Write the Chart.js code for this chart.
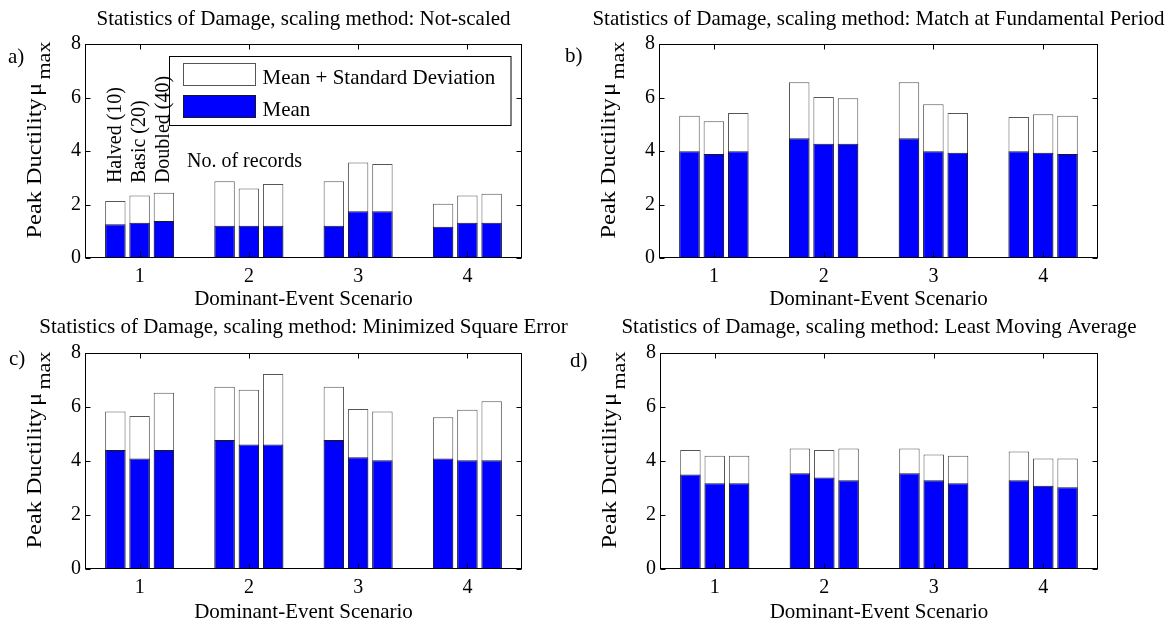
<!DOCTYPE html>
<html>
<head>
<meta charset="utf-8">
<script src="https://cdn.jsdelivr.net/npm/chart.js@4.4.1/dist/chart.umd.min.js"></script>
<style>
  body { margin: 0; background: #fff; }
  #figure { position: relative; width: 1174px; height: 625px; overflow: hidden; background: #fff; }
  #figure canvas { position: absolute; }
  .panel-label { position: absolute; font: 21px/21px "Liberation Serif", "Times New Roman", serif; color: #000; }
</style>
</head>
<body>
<div id="figure">
  <canvas id="chartA" width="587" height="312" style="left:0;top:0"></canvas>
  <canvas id="chartB" width="587" height="312" style="left:587px;top:0"></canvas>
  <canvas id="chartC" width="587" height="313" style="left:0;top:312px"></canvas>
  <canvas id="chartD" width="587" height="313" style="left:587px;top:312px"></canvas>
  <div class="panel-label" style="left:8px;top:46px">a)</div>
  <div class="panel-label" style="left:565px;top:45px">b)</div>
  <div class="panel-label" style="left:9px;top:348px">c)</div>
  <div class="panel-label" style="left:570px;top:350px">d)</div>
</div>
<script>
// ===================================
// DATA
// ===================================
const scenarios = ["1", "2", "3", "4"];
const recordSets = ["Halved (10)", "Basic (20)", "Doubled (40)"];
const yTicks = [0, 2, 4, 6, 8];

// rows: halved, basic, doubled -- columns: scenario 1..4
const notScaledMean = [
  [1.26, 1.21, 1.21, 1.17],
  [1.32, 1.21, 1.75, 1.32],
  [1.38, 1.21, 1.75, 1.32],
];
const notScaledMeanSd = [
  [2.13, 2.87, 2.87, 2.03],
  [2.34, 2.60, 3.57, 2.34],
  [2.44, 2.77, 3.51, 2.40],
];

const fundPeriodMean = [
  [3.99, 4.48, 4.48, 3.99],
  [3.89, 4.27, 3.99, 3.93],
  [3.99, 4.27, 3.93, 3.89],
];
const fundPeriodMeanSd = [
  [5.32, 6.57, 6.57, 5.27],
  [5.11, 6.02, 5.75, 5.37],
  [5.42, 5.97, 5.42, 5.32],
];

const minSqErrMean = [
  [4.41, 4.78, 4.78, 4.09],
  [4.09, 4.61, 4.14, 4.03],
  [4.41, 4.61, 4.03, 4.03],
];
const minSqErrMeanSd = [
  [5.83, 6.75, 6.75, 5.62],
  [5.67, 6.64, 5.93, 5.90],
  [6.53, 7.22, 5.83, 6.21],
];

const leastMovAvgMean = [
  [3.50, 3.55, 3.55, 3.29],
  [3.18, 3.39, 3.29, 3.08],
  [3.18, 3.29, 3.18, 3.03],
];
const leastMovAvgMeanSd = [
  [4.41, 4.46, 4.46, 4.35],
  [4.19, 4.41, 4.24, 4.09],
  [4.19, 4.46, 4.19, 4.09],
];

// ===================================
// LAYOUT
// ===================================
const FONT = '"Liberation Serif", "Times New Roman", serif';

const panels = [
  { id: "chartA", title: "Statistics of Damage, scaling method: Not-scaled",
    mean: notScaledMean, meanSd: notScaledMeanSd,
    area: { left: 85, top: 44, right: 522, bottom: 258 }, titleY: 19, notes: true },
  { id: "chartB", title: "Statistics of Damage, scaling method: Match at Fundamental Period",
    mean: fundPeriodMean, meanSd: fundPeriodMeanSd,
    area: { left: 72, top: 44, right: 511, bottom: 258 }, titleY: 19 },
  { id: "chartC", title: "Statistics of Damage, scaling method: Minimized Square Error",
    mean: minSqErrMean, meanSd: minSqErrMeanSd,
    area: { left: 85, top: 41, right: 522, bottom: 257 }, titleY: 15 },
  { id: "chartD", title: "Statistics of Damage, scaling method: Least Moving Average",
    mean: leastMovAvgMean, meanSd: leastMovAvgMeanSd,
    area: { left: 73, top: 41, right: 511, bottom: 257 }, titleY: 15 },
];

function buildDatasets(mean, meanSd) {
  const common = { categoryPercentage: 0.667, barPercentage: 0.84, borderWidth: 1 };
  const blue = recordSets.map((name, i) => ({
    ...common, label: "Mean", data: mean[i], stack: "rec" + i, order: 0,
    backgroundColor: "#0000ff", borderColor: "#1a1a1a",
  }));
  const white = recordSets.map((name, i) => ({
    ...common, label: "Mean + Standard Deviation", data: meanSd[i], stack: "rec" + i, order: 1,
    backgroundColor: "#ffffff", borderColor: "#555555",
  }));
  return blue.concat(white);
}

// title, frame, inward ticks and y label, MATLAB style
function axesPlugin(panel) {
  return {
    id: "matlabAxes",
    afterDatasetsDraw(chart) {
      const { ctx, chartArea: a, scales: { x, y } } = chart;
      const L = Math.round(a.left) + 0.5;
      const R = Math.round(a.right) - 0.5;
      const T = Math.round(a.top) + 0.5;
      const B = Math.round(a.bottom) - 0.5;
      ctx.save();
      ctx.strokeStyle = "#000";
      ctx.lineWidth = 1;
      ctx.strokeRect(L, T, R - L, B - T);
      ctx.beginPath();
      y.ticks.forEach((t, i) => {
        const py = Math.round(y.getPixelForTick(i)) + 0.5;
        ctx.moveTo(L, py); ctx.lineTo(L + 5, py);
        ctx.moveTo(R, py); ctx.lineTo(R - 5, py);
      });
      x.ticks.forEach((t, i) => {
        const px = Math.round(x.getPixelForTick(i)) + 0.5;
        ctx.moveTo(px, B); ctx.lineTo(px, B - 5);
        ctx.moveTo(px, T); ctx.lineTo(px, T + 5);
      });
      ctx.stroke();

      ctx.fillStyle = "#000";
      ctx.font = "21px " + FONT;
      ctx.textAlign = "center";
      ctx.textBaseline = "middle";
      ctx.fillText(panel.title, (a.left + a.right) / 2, panel.titleY);
      ctx.restore();
      drawYLabel(ctx, a);
    },
  };
}

function drawYLabel(ctx, a) {
  ctx.save();
  ctx.translate(a.left - 44, (a.top + a.bottom) / 2 - 11);
  ctx.rotate(-Math.PI / 2);
  ctx.scale(1.16, 1);
  ctx.fillStyle = "#000";
  ctx.textBaseline = "alphabetic";
  ctx.textAlign = "left";
  ctx.font = "21px " + FONT;
  const main = "Peak Ductility";
  const w1 = ctx.measureText(main).width;
  const wm = ctx.measureText("\u03bc").width;
  ctx.font = "19px " + FONT;
  const w2 = ctx.measureText("max").width;
  const total = w1 + 2 + wm + 3 + w2;
  const x0 = -total / 2;
  ctx.font = "21px " + FONT;
  ctx.fillText(main, x0, 0);
  ctx.fillText("\u03bc", x0 + w1 + 2, 0);
  ctx.font = "19px " + FONT;
  ctx.fillText("max", x0 + w1 + 2 + wm + 3, 9);
  ctx.restore();
}

// legend box and record-count notes of panel a)
const notesPlugin = {
  id: "recordNotes",
  afterDraw(chart) {
    const { ctx, chartArea: a, scales: { y } } = chart;
    const bx = Math.round(a.left) + 84.5;
    const by = Math.round(a.top) + 12.5;
    const bw = Math.round(a.right) - 11 - bx;
    ctx.save();
    ctx.fillStyle = "#fff";
    ctx.fillRect(bx, by, bw, 69);
    ctx.strokeStyle = "#000";
    ctx.lineWidth = 1;
    ctx.strokeRect(bx, by, bw, 69);
    // swatches
    ctx.fillStyle = "#fff";
    ctx.strokeStyle = "#555";
    ctx.fillRect(bx + 14, by + 7, 72, 22);
    ctx.strokeRect(bx + 14, by + 7, 72, 22);
    ctx.fillStyle = "#0000ff";
    ctx.strokeStyle = "#1a1a1a";
    ctx.fillRect(bx + 14, by + 39, 72, 22);
    ctx.strokeRect(bx + 14, by + 39, 72, 22);
    ctx.fillStyle = "#000";
    ctx.font = "21px " + FONT;
    ctx.textBaseline = "alphabetic";
    ctx.fillText("Mean + Standard Deviation", bx + 93, by + 27);
    ctx.fillText("Mean", bx + 93, by + 59);
    // record sets written up along the first group of bars
    const base = y.getPixelForValue(2.8);
    ctx.font = "20px " + FONT;
    ctx.textBaseline = "middle";
    recordSets.forEach((name, i) => {
      const bar = chart.getDatasetMeta(i).data[0];
      ctx.save();
      ctx.translate(bar.x, base);
      ctx.rotate(-Math.PI / 2);
      ctx.fillText(name, 0, 0);
      ctx.restore();
    });
    ctx.textBaseline = "alphabetic";
    ctx.fillText("No. of records", a.left + 102, a.top + 123);
    ctx.restore();
  },
};

function makeChart(panel) {
  const canvas = document.getElementById(panel.id);
  const W = canvas.width;
  const H = canvas.height;
  const area = panel.area;
  const tickFont = { family: FONT, size: 20 };
  return new Chart(canvas, {
    type: "bar",
    data: { labels: scenarios, datasets: buildDatasets(panel.mean, panel.meanSd) },
    options: {
      responsive: false,
      animation: false,
      events: [],
      layout: { padding: { left: 0, top: area.top, right: W - area.right, bottom: 0 } },
      plugins: {
        legend: { display: false },
        tooltip: { enabled: false },
        title: { display: false },
      },
      scales: {
        x: {
          grid: { display: false, drawTicks: false },
          border: { display: false },
          ticks: { color: "#000", font: tickFont, padding: 7, maxRotation: 0 },
          title: {
            display: true,
            text: "Dominant-Event Scenario",
            color: "#000",
            font: { family: FONT, size: 21 },
            padding: { top: 0, bottom: 0 },
          },
          afterFit: (s) => { s.height = H - area.bottom; },
        },
        y: {
          min: 0,
          max: 8,
          stacked: false,
          grid: { display: false, drawTicks: false },
          border: { display: false },
          ticks: { color: "#000", font: tickFont, padding: 4 },
          afterBuildTicks: (s) => { s.ticks = yTicks.map((v) => ({ value: v })); },
          afterFit: (s) => { s.width = area.left; },
        },
      },
    },
    plugins: panel.notes ? [axesPlugin(panel), notesPlugin] : [axesPlugin(panel)],
  });
}

panels.forEach(makeChart);
</script>
</body>
</html>
